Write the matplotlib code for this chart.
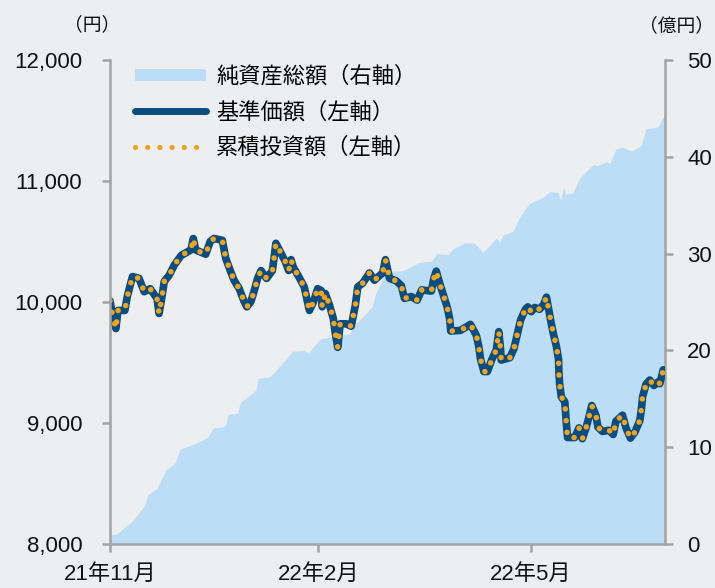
import matplotlib
matplotlib.use('Agg')
import matplotlib.pyplot as plt
from matplotlib.patches import Patch
from matplotlib.lines import Line2D

plt.rcParams['font.family'] = ['Liberation Sans', 'Noto Sans CJK JP', 'DejaVu Sans']

# ---- data (x = trading-day index from 2021-11-01) ----
nav_days = [0, 0.7, 1.7, 2.3, 4.3, 5.0, 6.5, 8.4, 9.9, 11.6,
            13.6, 14.2, 15.1, 15.7, 17.1, 18.6, 20.6, 23.4, 24.1, 24.8,
            27.7, 29.0, 30.1, 32.5, 33.5, 34.8, 35.9, 37.4, 38.8, 39.6,
            40.8, 41.7, 42.7, 43.7, 45.3, 47.0, 48.0, 49.2, 50.7, 51.7,
            52.4, 53.0, 54.6, 56.2, 57.7, 58.8, 60.1, 61.1, 61.4, 62.3,
            63.5, 64.6, 65.2, 65.9, 66.6, 68.3, 69.8, 71.0, 71.7, 73.1,
            75.1, 76.5, 78.9, 79.7, 80.9, 82.8, 84.3, 85.2, 87.2, 88.9,
            90.2, 93.0, 93.7, 94.4, 95.4, 96.6, 97.6, 98.3, 98.6, 101.4,
            104.3, 106.0, 106.7, 107.2, 108.2, 109.2, 110.5, 111.8, 112.5, 113.0,
            113.2, 115.7, 116.9, 117.9, 118.8, 120.2, 120.9, 121.9, 122.9, 124.3,
            125.5, 126.3, 127.0, 127.7, 128.4, 129.2, 129.8, 129.9, 130.1, 130.6,
            131.6, 132.1, 132.4, 134.5, 135.7, 136.7, 137.7, 138.6, 139.4, 140.6,
            141.2, 142.5, 144.4, 145.6, 146.4, 148.3, 149.3, 150.6, 151.9, 153.3,
            153.8, 154.1, 155.1, 156.2, 157.4, 158.6, 159.1, 160.1]
nav_values = [10010, 9890, 9780, 9930, 9930, 10045, 10210, 10195, 10085, 10110,
              10030, 9905, 10055, 10170, 10220, 10305, 10385, 10430, 10525, 10430,
              10395, 10500, 10525, 10510, 10360, 10260, 10180, 10110, 10005, 9960,
              10005, 10090, 10195, 10260, 10195, 10260, 10485, 10420, 10335, 10260,
              10350, 10290, 10210, 10125, 9930, 9995, 10110, 10095, 9960, 10070,
              9975, 9865, 9740, 9625, 9820, 9820, 9800, 9975, 10125, 10155,
              10240, 10180, 10240, 10350, 10195, 10175, 10135, 10030, 10045, 10015,
              10100, 10090, 10195, 10255, 10155, 10045, 9955, 9860, 9760, 9765,
              9815, 9725, 9635, 9530, 9425, 9425, 9525, 9605, 9755, 9615,
              9520, 9540, 9615, 9740, 9850, 9940, 9960, 9920, 9955, 9940,
              9980, 10040, 9930, 9820, 9725, 9630, 9525, 9420, 9325, 9215,
              9175, 8980, 8880, 8880, 8960, 8870, 8955, 9050, 9145, 9065,
              8965, 8930, 8940, 8905, 9015, 9065, 8960, 8875, 8925, 9020,
              9120, 9215, 9320, 9355, 9310, 9340, 9325, 9440]
# cumulative investment value tracks the NAV line exactly in the chart
cum_values = list(nav_values)

asset_days = [0, 1.9, 6.5, 9.9, 11.0, 13.5, 16.1, 18.8, 20.3, 24.8,
              28.2, 29.9, 32.6, 33.5, 34.2, 36.9, 37.7, 39.8, 42.2, 42.9,
              46.4, 51.2, 52.8, 56.2, 57.4, 60.1, 61.1, 64.0, 66.9, 69.3,
              71.2, 74.1, 75.9, 76.8, 79.4, 81.8, 84.3, 85.7, 89.6, 93.0,
              94.6, 97.8, 99.2, 102.6, 105.5, 107.9, 111.8, 112.8, 113.7, 116.6,
              118.6, 121.4, 125.3, 127.2, 129.7, 130.3, 131.3, 131.9, 134.0, 135.9,
              139.8, 141.2, 143.7, 144.6, 146.4, 148.3, 150.9, 153.8, 155.1, 157.2,
              158.6, 159.9, 160.6]
asset_values = [1.0, 1.0, 2.4, 3.9, 5.1, 5.7, 7.6, 8.4, 9.8, 10.4,
                11.0, 12.0, 12.1, 12.3, 13.4, 13.5, 14.6, 15.2, 15.9, 17.1,
                17.3, 19.2, 19.9, 20.0, 19.7, 20.9, 21.2, 21.4, 21.6, 21.7,
                22.8, 23.8, 24.6, 25.8, 27.8, 28.2, 28.2, 28.4, 29.1, 29.2,
                30.0, 29.9, 30.5, 31.1, 31.1, 30.1, 31.6, 31.2, 31.9, 32.3,
                33.8, 35.2, 35.8, 36.4, 36.3, 35.5, 36.8, 36.1, 36.3, 37.8,
                39.2, 39.1, 39.5, 39.3, 40.8, 41.0, 40.6, 41.2, 42.9, 43.0,
                43.1, 44.0, 44.3]

tick_days = [0, 60.3, 121.7]
tick_labels = ['21年11月', '22年2月', '22年5月']
left_ticks = [8000, 9000, 10000, 11000, 12000]
right_ticks = [0, 10, 20, 30, 40, 50]
legend_labels = ['純資産総額（右軸）', '基準価額（左軸）', '累積投資額（左軸）']

# ---- style ----
BG = '#EDEEF0'
NAVY = '#0C4D7F'
ORANGE = '#EFA31F'
LIGHT = '#BCDDF6'
GRAY = '#A3A3A3'
DOTS = (0, (0.01, 2.1))

fig = plt.figure(figsize=(7.15, 5.88), dpi=100, facecolor=BG)
ax = fig.add_axes([110/715, 1-544/588, 555/715, 484/588])
ax2 = ax.twinx()

ax2.fill_between(asset_days, asset_values, 0, color=LIGHT, linewidth=0)
ax2.set_ylim(0, 50)
ax2.set_yticks(right_ticks)
ax2.patch.set_facecolor('white')

ax.plot(nav_days, nav_values, color=NAVY, lw=5.5, solid_capstyle='round',
        solid_joinstyle='round')
ax.plot(nav_days, cum_values, color=ORANGE, lw=4.0, linestyle=DOTS,
        dash_capstyle='round')
ax.set_zorder(ax2.get_zorder() + 1)
ax.patch.set_visible(False)

ax.set_xlim(0, 160.6)
ax.set_ylim(8000, 12000)
ax.set_yticks(left_ticks)
ax.set_yticklabels([f'{v:,}' for v in left_ticks])
ax.set_xticks(tick_days)
ax.set_xticklabels(tick_labels)

for a in (ax, ax2):
    for s in a.spines.values():
        s.set_color(GRAY)
        s.set_linewidth(1.8)
    a.spines['top'].set_visible(False)
ax.spines['right'].set_visible(False)
ax2.spines['left'].set_visible(False)
ax2.spines['bottom'].set_visible(False)

ax.tick_params(axis='y', direction='out', length=6, width=1.8, color=GRAY,
               labelsize=16, pad=14, labelcolor='#111111')
ax.tick_params(axis='x', direction='out', length=6, width=1.8, color=GRAY,
               labelsize=16, pad=8, labelcolor='#111111')
ax2.tick_params(axis='y', direction='out', length=6, width=1.8, color=GRAY,
                labelsize=16, pad=10, labelcolor='#111111')

handles = [Patch(facecolor=LIGHT, edgecolor='none'),
           Line2D([], [], color=NAVY, lw=5.0, solid_capstyle='round'),
           Line2D([], [], color=ORANGE, lw=3.8, linestyle=(0, (0.01, 2.3)),
                  dash_capstyle='round')]
leg = ax.legend(handles, legend_labels, loc='upper left', bbox_to_anchor=(0.045, 0.987),
                frameon=False, fontsize=16, handlelength=3.2, handletextpad=0.45,
                labelspacing=0.64, borderpad=0, borderaxespad=0, handleheight=0.45)

fig.text(92/715, 1-25/588, '（円）', fontsize=13.5, ha='center', va='center', color='#111111')
fig.text(676/715, 1-26/588, '（億円）', fontsize=13.5, ha='center', va='center', color='#111111')

fig.savefig('out.png', dpi=100, facecolor=BG)
